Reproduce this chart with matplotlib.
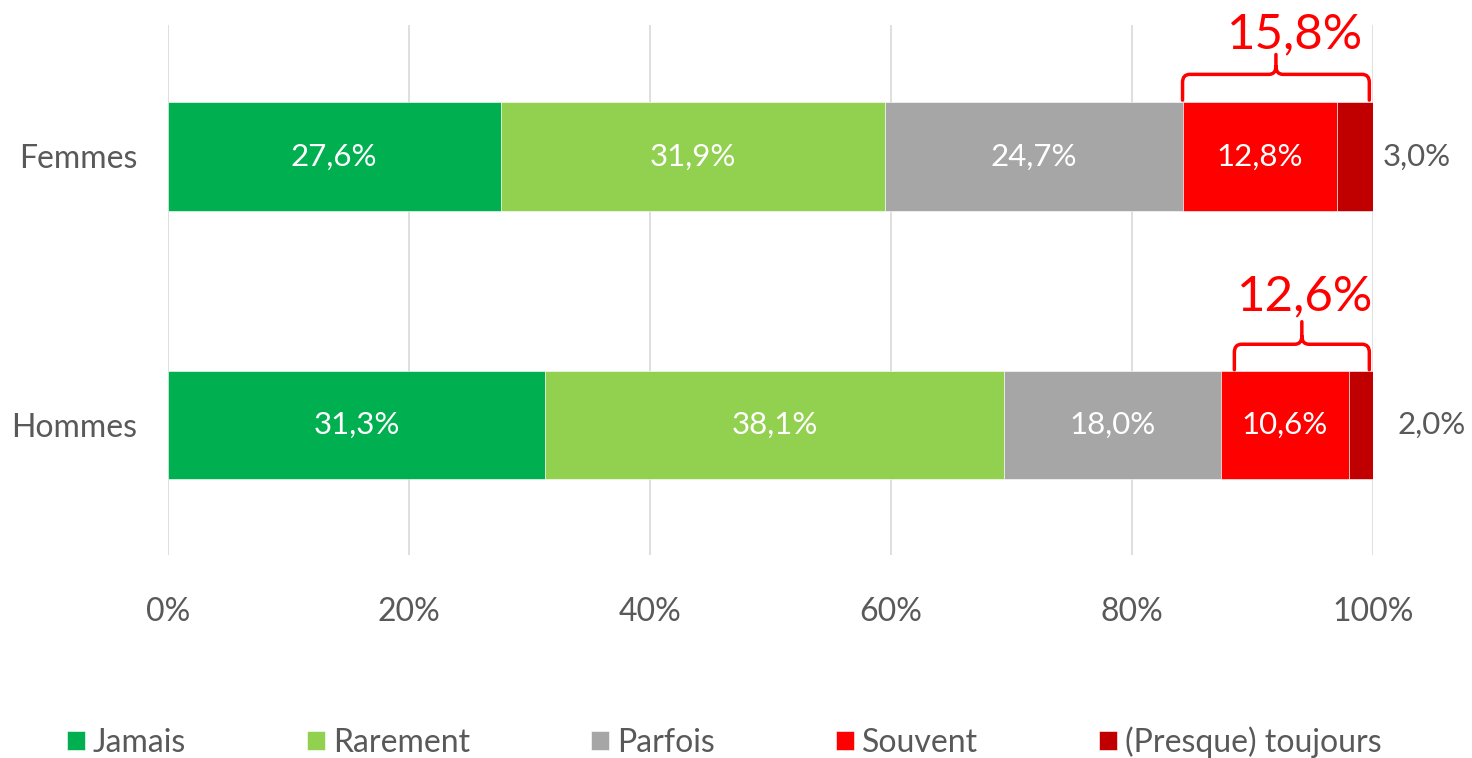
import matplotlib.pyplot as plt
from matplotlib.path import Path
from matplotlib.patches import PathPatch

plt.rcParams['font.family'] = ['Lato', 'DejaVu Sans']

groups = ['Hommes', 'Femmes']
series = ['Jamais', 'Rarement', 'Parfois', 'Souvent', '(Presque) toujours']
values = {
    'Jamais': [31.3, 27.6],
    'Rarement': [38.1, 31.9],
    'Parfois': [18.0, 24.7],
    'Souvent': [10.6, 12.8],
    '(Presque) toujours': [2.0, 3.0],
}
colors = ['#00B050', '#92D050', '#A6A6A6', '#FF0000', '#C00000']
xticks = [0, 20, 40, 60, 80, 100]
grey = '#595959'


def pct(v):
    return f'{v:.1f}'.replace('.', ',') + '%'


fig = plt.figure(figsize=(14.72, 7.58), dpi=100)
ax = fig.add_axes([0.1141, 0.268, 0.8186, 0.699])

ypos = [0, 1]
bh = 0.403
left = [0.0, 0.0]
for name, col in zip(series, colors):
    vals = values[name]
    ax.barh(ypos, vals, left=left, height=bh, color=col, label=name,
            edgecolor='white', linewidth=0.4, zorder=2)
    for i, v in enumerate(vals):
        if name != '(Presque) toujours':
            ax.text(left[i] + v / 2, ypos[i], pct(v),
                    ha='center', va='center', color='white', fontsize=22.5, zorder=3)
    left = [l + v for l, v in zip(left, vals)]

# labels of last segment, outside
tj = values['(Presque) toujours']
for i, off in zip(ypos, [2.0, 0.8]):
    ax.text(100 + off, i, pct(tj[i]),
            ha='left', va='center', color=grey, fontsize=22.5)


def brace(x0, x1, yb, ym, yt, rx=0.6, ry=0.03):
    xc = (x0 + x1) / 2
    verts = [(x0, yb), (x0, ym - ry), (x0, ym), (x0 + rx, ym),
             (xc - rx, ym), (xc, ym), (xc, ym + ry), (xc, yt),
             (xc, ym + ry), (xc, ym), (xc + rx, ym),
             (x1 - rx, ym), (x1, ym), (x1, ym - ry), (x1, yb)]
    codes = [Path.MOVETO, Path.LINETO, Path.CURVE3, Path.CURVE3,
             Path.LINETO, Path.CURVE3, Path.CURVE3, Path.LINETO,
             Path.MOVETO, Path.CURVE3, Path.CURVE3,
             Path.LINETO, Path.CURVE3, Path.CURVE3, Path.LINETO]
    ax.add_patch(PathPatch(Path(verts, codes), fill=False, edgecolor='#FF0000',
                           linewidth=2.5, capstyle='round', joinstyle='round',
                           clip_on=False, zorder=4))


sv = values['Souvent']
# Femmes
brace(84.2, 99.7, 1.21, 1.306, 1.38)
ax.text(93.5, 1.455, pct(sv[1] + tj[1]),
        ha='center', va='center', color='#FF0000', fontsize=35.5)
# Hommes
brace(88.5, 99.7, 0.205, 0.30, 0.384)
ax.text(94.4, 0.478, pct(sv[0] + tj[0]),
        ha='center', va='center', color='#FF0000', fontsize=35.5)

ax.set_xlim(0, 100)
ax.set_ylim(-0.485, 1.49)
ax.set_xticks(xticks)
ax.set_xticklabels([f'{t}%' for t in xticks])
ax.set_yticks(ypos)
ax.set_yticklabels(groups)
ax.tick_params(axis='both', length=0, labelsize=23, labelcolor=grey)
ax.tick_params(axis='y', pad=22)
ax.tick_params(axis='x', pad=30)
ax.grid(axis='x', color='#D9D9D9', linewidth=1.2, zorder=0)
ax.set_axisbelow(True)
for s in ax.spines.values():
    s.set_visible(False)

fig.legend(loc='center', bbox_to_anchor=(0.492, 0.021), ncol=5, frameon=False,
           fontsize=23, labelcolor=grey, handlelength=0.55, handleheight=0.55,
           handletextpad=0.25, columnspacing=3.8)

fig.savefig('out.png', dpi=100)
